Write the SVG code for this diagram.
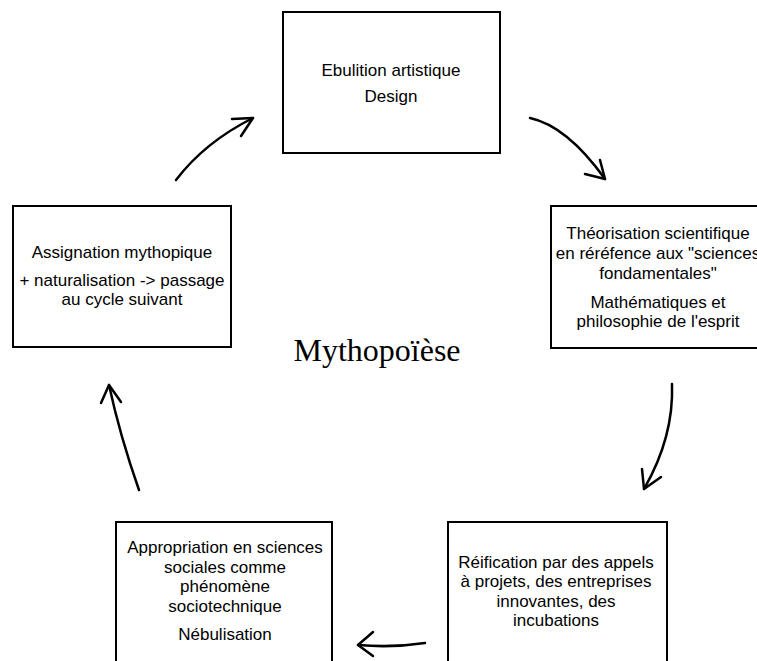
<svg xmlns="http://www.w3.org/2000/svg" width="757" height="661" viewBox="0 0 757 661">
  <style>
    .box { fill: #ffffff; stroke: #000000; stroke-width: 2; }
    .lbl { font-family: "Liberation Sans", Arial, sans-serif; font-size: 17px; fill: #000000; text-anchor: middle; }
    .title { font-family: "Liberation Serif", "Times New Roman", serif; font-size: 32px; fill: #000000; text-anchor: middle; }
    .conn { fill: none; stroke: #000000; stroke-width: 2.5; stroke-linecap: round; stroke-linejoin: round; }
  </style>
  <rect x="0" y="0" width="757" height="661" fill="#ffffff"/>

  <g id="node-ebulition">
    <rect class="box" x="283" y="12" width="217" height="141"/>
    <text class="lbl" x="391" y="76">Ebulition artistique</text>
    <text class="lbl" x="391" y="102">Design</text>
  </g>

  <g id="node-theorisation">
    <rect class="box" x="551" y="206" width="216" height="142"/>
    <text class="lbl" x="658" y="239">Théorisation scientifique</text>
    <text class="lbl" x="658" y="259">en réréfence aux "sciences</text>
    <text class="lbl" x="658" y="279">fondamentales"</text>
    <text class="lbl" x="658" y="308">Mathématiques et</text>
    <text class="lbl" x="658" y="327">philosophie de l'esprit</text>
  </g>

  <g id="node-reification">
    <rect class="box" x="448" y="522" width="219" height="160"/>
    <text class="lbl" x="556" y="568">Réification par des appels</text>
    <text class="lbl" x="556" y="587">à projets, des entreprises</text>
    <text class="lbl" x="556" y="607">innovantes, des</text>
    <text class="lbl" x="556" y="626">incubations</text>
  </g>

  <g id="node-appropriation">
    <rect class="box" x="116" y="522" width="216" height="160"/>
    <text class="lbl" x="225" y="553">Appropriation en sciences</text>
    <text class="lbl" x="225" y="573">sociales comme</text>
    <text class="lbl" x="225" y="592">phénomène</text>
    <text class="lbl" x="225" y="612">sociotechnique</text>
    <text class="lbl" x="225" y="640">Nébulisation</text>
  </g>

  <g id="node-assignation">
    <rect class="box" x="13" y="206" width="218" height="141"/>
    <text class="lbl" x="122" y="258">Assignation mythopique</text>
    <text class="lbl" x="122" y="286">+ naturalisation -&gt; passage</text>
    <text class="lbl" x="122" y="305">au cycle suivant</text>
  </g>

  <g id="title">
    <text class="title" x="377" y="361">Mythopoïèse</text>
  </g>

  <g id="connectors">
    <path class="conn" d="M530,118 Q567,126 605,179"/>
    <path class="conn" d="M585,174 L605,179 L600,160"/>

    <path class="conn" d="M672,384 Q674,437 644,489"/>
    <path class="conn" d="M642,469 L644,489 L661,477"/>

    <path class="conn" d="M425,643 Q392,648 358,645"/>
    <path class="conn" d="M373,632 L358,645 L373,656"/>

    <path class="conn" d="M139,490 Q120,436 109,385"/>
    <path class="conn" d="M101,403 L109,385 L121,402"/>

    <path class="conn" d="M176,180 Q205,142 253,118"/>
    <path class="conn" d="M232,119 L253,118 L241,136"/>
  </g>
</svg>
